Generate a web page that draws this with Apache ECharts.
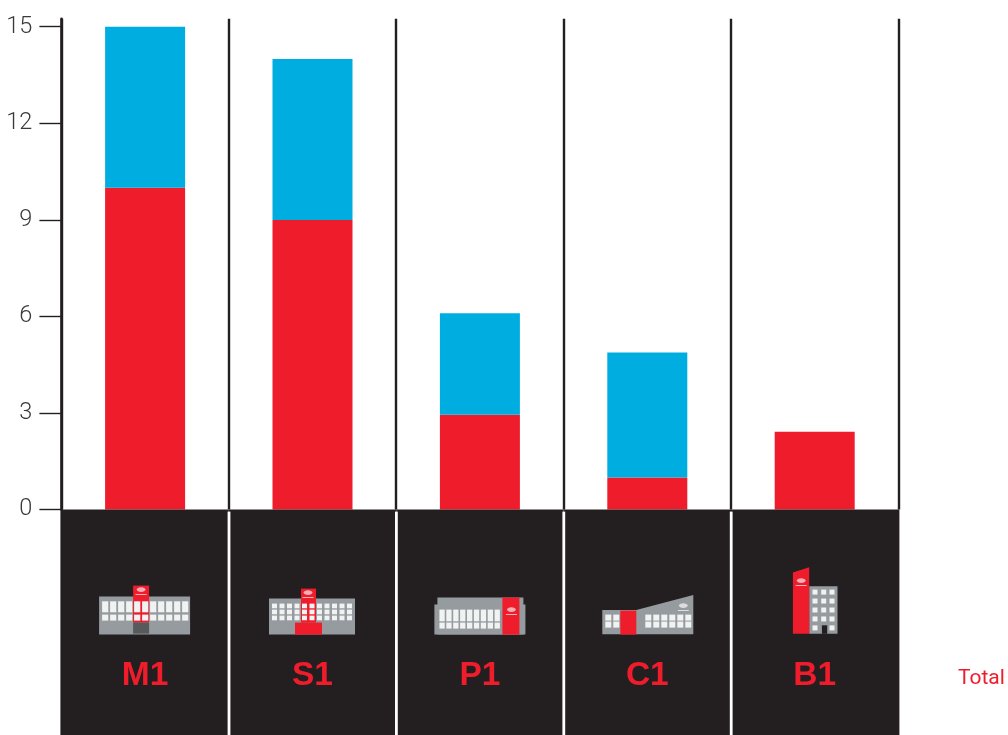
<!DOCTYPE html>
<html><head><meta charset="utf-8">
<style>html,body{margin:0;padding:0;background:#fff}#c{width:1008px;height:735px}</style>
<script src="https://cdn.jsdelivr.net/npm/echarts@6/dist/echarts.min.js"></script>
</head><body><div id="c"></div>
<script>
const categories = ['M1','S1','P1','C1','B1'];
const redValues  = [10, 9, 2.95, 1, 2.42];
const blueValues = [5, 5, 3.15, 3.88, 0];
const yTicks = [0, 3, 6, 9, 12, 15];
const totalLabel = 'Total';

const RED='#ef1c2c', BLUE='#00ade1', DARK='#231f20', GREY='#969b9f', WIN='#f1f2f2', DOOR='#58595b';

function iconParts(name){
  const p=[]; let ox=0; const oy=510;
  const r=(x,y,w,h,c)=>p.push({type:'rect',shape:{x:x-ox,y:y-oy,width:w,height:h},style:{fill:c}});
  const poly=(pts,c)=>p.push({type:'polygon',shape:{points:pts.map(q=>[q[0]-ox,q[1]-oy])},style:{fill:c}});
  const logo=(x,y,c)=>{
    p.push({type:'ellipse',shape:{cx:x-ox,cy:y-oy,rx:4.4,ry:2.4},style:{fill:c,opacity:0.85}});
    r(x-5.5,y+4.5,11,0.9,c);
  };
  if(name==='M1'){ ox=145;
    r(99,597,91,38,GREY);
    r(133,586,16,37,RED);
    r(133,623,16,11,DOOR);
    for(let i=0;i<11;i++){ r(102+8*i,601.7,6.2,11,WIN); r(102+8*i,615,6.2,6,WIN); }
    logo(141,590,'#f7c6ca');
  } else if(name==='S1'){ ox=312.5;
    r(269,599,86,36,GREY);
    r(301,589,15,34,RED);
    r(295,623,27,12,RED);
    for(let i=0;i<11;i++) for(let j=0;j<3;j++) r(272+7.5*i,604+6*j,5,4.7,WIN);
    logo(308,593,'#f7c6ca');
  } else if(name==='P1'){ ox=479.5;
    r(437,598,86,37,GREY);
    r(434,605,91,30,GREY);
    r(502,598,17,37,RED);
    for(let i=0;i<9;i++){ r(439+6.9*i,610,5.3,11.7,WIN); r(439+6.9*i,623,5.3,6,WIN); }
    logo(511,610,'#f7c6ca');
  } else if(name==='C1'){ ox=647;
    poly([[602,610.3],[636,610.3],[693,595.3],[693,634.7],[602,634.7]],GREY);
    r(620,611,16,24,RED);
    for(const y of [615,622]){
      r(605,y,6,6,WIN); r(613,y,6,6,WIN);
      for(let i=0;i<6;i++) r(645+8*i,y,6,6,WIN);
    }
    logo(683,606,'#e6e7e8');
  } else if(name==='B1'){ ox=814.5;
    r(809,586.7,28.3,47.5,GREY);
    poly([[792.7,573],[809,567.7],[809,634.2],[792.7,634.2]],RED);
    for(let j=0;j<5;j++) for(let i=0;i<3;i++){
      if(j===4&&i===1) continue;
      r([812.3,821,829.3][i],590+8.95*j,5,5,WIN);
    }
    r(821.7,625.7,5.3,8.5,DARK);
    logo(801,581,'#f7c6ca');
  }
  return p;
}

function renderBand(params, api){
  const idx=api.value(0);
  const pt=api.coord([idx,0]);
  const w=api.size([1,0])[0];
  const left=pt[0]-w/2;
  const last=idx===categories.length-1;
  const children=[{type:'rect',shape:{x:left-(idx===0?1:0),y:pt[1],width:w+(idx===0||last?1:0),height:735-pt[1]},style:{fill:DARK}}];
  if(idx>0) children.push({type:'rect',shape:{x:left-1.2,y:pt[1]+2,width:2.8,height:735-pt[1]},style:{fill:'#fff'}});
  children.push({type:'group',x:pt[0],y:pt[1],children:iconParts(categories[idx])});
  children.push({type:'text',x:pt[0],y:pt[1]+166.5,style:{text:categories[idx],fill:RED,align:'center',verticalAlign:'middle',font:'bold 33.5px "Liberation Sans"'}});
  return {type:'group',children};
}

const chart=echarts.init(document.getElementById('c'),null,{renderer:'canvas'});
chart.setOption({
  animation:false,
  backgroundColor:'#fff',
  grid:{left:61.4,right:109.6,top:18.7,bottom:225.4,containLabel:false},
  xAxis:{type:'category',data:categories,boundaryGap:true,
    axisLine:{show:false},axisTick:{show:false},axisLabel:{show:false},
    splitLine:{show:true,interval:0,lineStyle:{color:DARK,width:2.4}}},
  yAxis:{type:'value',min:0,max:15.25,interval:3,
    axisLine:{show:true,lineStyle:{color:DARK,width:2.6}},
    axisTick:{show:true,length:22,customValues:yTicks,lineStyle:{color:DARK,width:1.4}},
    axisLabel:{margin:29,customValues:yTicks,color:'#3a3a3c',fontSize:23.5,fontFamily:'Roboto',fontWeight:300},
    splitLine:{show:false}},
  graphic:[{type:'text',x:958,y:679,style:{text:totalLabel,fill:RED,font:'21px Roboto',verticalAlign:'middle'}}],
  series:[
    {type:'bar',stack:'a',data:redValues,barWidth:80,itemStyle:{color:RED}},
    {type:'bar',stack:'a',data:blueValues,barWidth:80,itemStyle:{color:BLUE}},
    {type:'custom',data:categories.map((c,i)=>[i]),encode:{x:0},renderItem:renderBand,clip:false,silent:true,z:5}
  ]
});
</script></body></html>
